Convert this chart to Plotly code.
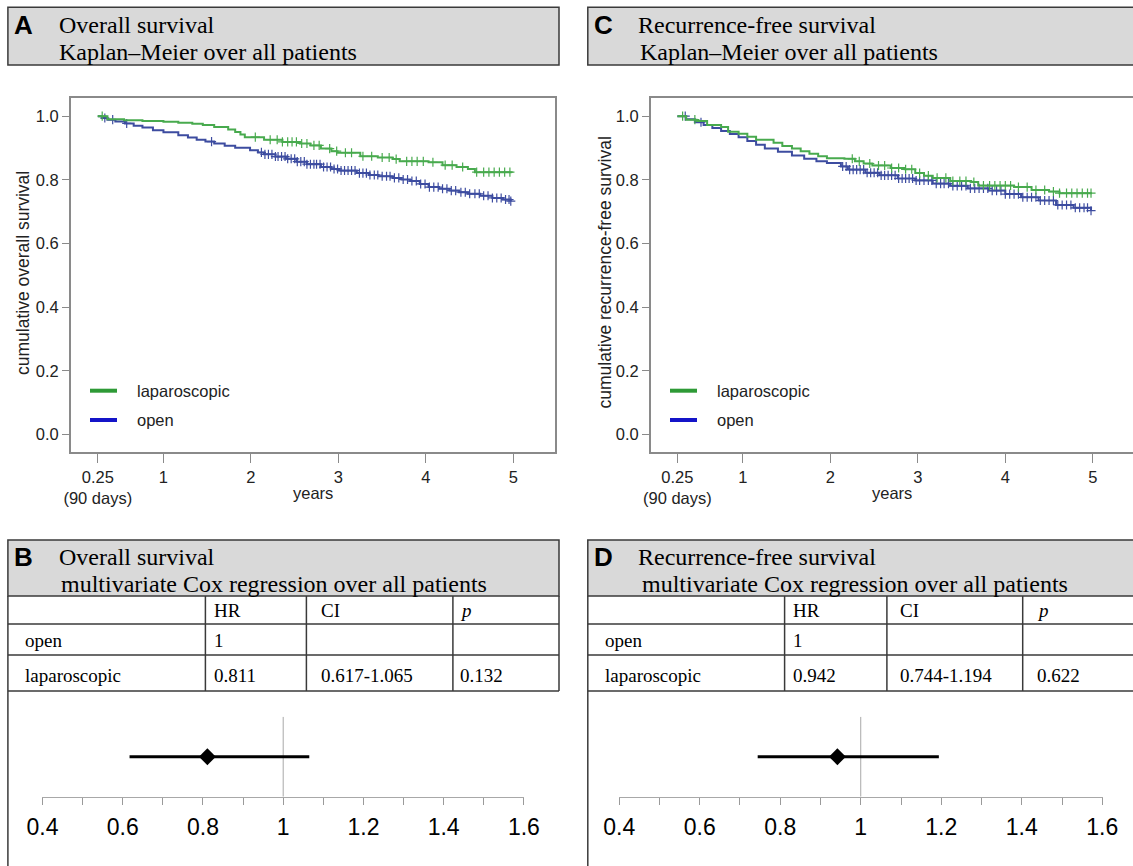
import numpy as np
import plotly.graph_objects as go

W, H = 1133, 866

# ---------------- Kaplan–Meier data (years, cumulative survival) ----------------
# Overall survival
os_lap_t = [0.25, 0.36, 0.55, 0.76, 1.00, 1.17, 1.33, 1.45, 1.58, 1.74, 1.82, 1.88, 1.93,
            2.15, 2.36, 2.56, 2.68, 2.80, 2.92, 2.99, 3.25, 3.45, 3.62, 3.70, 4.03, 4.19,
            4.35, 4.48, 4.56, 4.98]
os_lap_s = [1.000, 0.990, 0.987, 0.985, 0.982, 0.979, 0.976, 0.972, 0.966, 0.958, 0.950, 0.942, 0.934,
            0.926, 0.919, 0.914, 0.908, 0.898, 0.890, 0.885, 0.874, 0.870, 0.865, 0.858, 0.855, 0.846,
            0.840, 0.834, 0.824, 0.821]
os_open_t = [0.25, 0.30, 0.36, 0.45, 0.56, 0.66, 0.76, 0.88, 1.00, 1.17, 1.28, 1.38, 1.48, 1.58,
             1.70, 1.82, 1.99, 2.08, 2.15, 2.28, 2.40, 2.52, 2.64, 2.80, 2.92, 3.01, 3.21, 3.35,
             3.46, 3.62, 3.72, 3.82, 3.93, 4.03, 4.15, 4.27, 4.38, 4.48, 4.62, 4.76, 4.88, 4.97]
os_open_s = [1.000, 0.994, 0.989, 0.983, 0.977, 0.970, 0.964, 0.956, 0.949, 0.940, 0.933, 0.926, 0.920, 0.914,
             0.907, 0.901, 0.893, 0.886, 0.880, 0.873, 0.866, 0.857, 0.849, 0.840, 0.834, 0.829, 0.821, 0.815,
             0.811, 0.806, 0.801, 0.796, 0.787, 0.777, 0.772, 0.766, 0.761, 0.756, 0.750, 0.743, 0.738, 0.733]
os_lap_cens = [0.30, 2.05, 2.22, 2.30, 2.36, 2.42, 2.47, 2.52, 2.58, 2.64, 2.72, 2.78, 2.90, 2.98,
               3.08, 3.15, 3.28, 3.38, 3.50, 3.58, 3.66, 3.78, 3.84, 3.90, 3.97, 4.08, 4.22, 4.30,
               4.42, 4.58, 4.66, 4.72, 4.78, 4.84, 4.90, 4.96]
os_open_cens = [0.33, 0.42, 0.58, 1.55, 2.12, 2.16, 2.20, 2.24, 2.28, 2.31, 2.35, 2.39, 2.42, 2.46,
                2.50, 2.53, 2.57, 2.61, 2.64, 2.68, 2.72, 2.75, 2.79, 2.83, 2.87, 2.91, 2.95, 2.99,
                3.03, 3.07, 3.11, 3.15, 3.19, 3.24, 3.28, 3.32, 3.36, 3.41, 3.45, 3.50, 3.55, 3.59,
                3.64, 3.69, 3.74, 3.79, 3.84, 3.89, 3.94, 3.99, 4.04, 4.09, 4.14, 4.19, 4.24, 4.29,
                4.34, 4.40, 4.45, 4.50, 4.56, 4.61, 4.66, 4.71, 4.76, 4.81, 4.86, 4.91, 4.95, 4.97]

# Recurrence-free survival
rfs_lap_t = [0.25, 0.35, 0.47, 0.59, 0.75, 0.83, 0.95, 1.05, 1.15, 1.35, 1.45, 1.56, 1.66, 1.76,
             1.86, 1.96, 2.16, 2.28, 2.38, 2.48, 2.69, 2.85, 2.97, 3.07, 3.17, 3.37, 3.61, 3.69,
             4.10, 4.30, 4.50, 4.62, 4.99]
rfs_lap_s = [1.000, 0.989, 0.985, 0.972, 0.966, 0.951, 0.945, 0.935, 0.926, 0.916, 0.906, 0.898, 0.890, 0.882,
             0.874, 0.868, 0.866, 0.858, 0.851, 0.845, 0.837, 0.833, 0.821, 0.813, 0.806, 0.796, 0.793, 0.782,
             0.777, 0.768, 0.763, 0.758, 0.758]
rfs_open_t = [0.25, 0.35, 0.45, 0.55, 0.65, 0.75, 0.85, 0.95, 1.05, 1.15, 1.25, 1.40, 1.56, 1.70,
              1.84, 1.96, 2.12, 2.20, 2.40, 2.56, 2.77, 2.97, 3.17, 3.37, 3.57, 3.81, 4.00, 4.18,
              4.38, 4.58, 4.78, 4.98]
rfs_open_s = [1.000, 0.990, 0.981, 0.972, 0.963, 0.953, 0.944, 0.934, 0.922, 0.910, 0.898, 0.888, 0.876, 0.866,
              0.858, 0.853, 0.842, 0.832, 0.822, 0.814, 0.804, 0.798, 0.788, 0.781, 0.773, 0.766, 0.755, 0.745,
              0.735, 0.721, 0.712, 0.703]
rfs_lap_cens = [0.31, 0.45, 2.25, 2.33, 2.45, 2.55, 2.62, 2.70, 2.78, 2.86, 2.93, 3.02, 3.12, 3.22,
                3.32, 3.40, 3.48, 3.55, 3.64, 3.75, 3.82, 3.88, 3.94, 4.00, 4.06, 4.15, 4.25, 4.35,
                4.45, 4.55, 4.62, 4.70, 4.76, 4.82, 4.88, 4.94, 4.98]
rfs_open_cens = [0.34, 0.52, 2.14, 2.18, 2.22, 2.26, 2.30, 2.34, 2.38, 2.42, 2.46, 2.50, 2.54, 2.58,
                 2.62, 2.66, 2.70, 2.74, 2.78, 2.82, 2.86, 2.90, 2.94, 2.98, 3.02, 3.07, 3.12, 3.16,
                 3.21, 3.26, 3.30, 3.35, 3.40, 3.45, 3.50, 3.55, 3.60, 3.65, 3.70, 3.75, 3.80, 3.85,
                 3.90, 3.95, 4.00, 4.05, 4.10, 4.15, 4.20, 4.25, 4.30, 4.35, 4.40, 4.45, 4.50, 4.55,
                 4.60, 4.65, 4.70, 4.75, 4.80, 4.85, 4.90, 4.94, 4.98]

# ---------------- Cox regression tables ----------------
cox_header = ["", "HR", "CI", "p"]
cox_groups = ["open", "laparoscopic"]
os_hr = ["1", "0.811"]
os_ci = ["", "0.617-1.065"]
os_p = ["", "0.132"]
rfs_hr = ["1", "0.942"]
rfs_ci = ["", "0.744-1.194"]
rfs_p = ["", "0.622"]

# ---------------- axis ticks ----------------
year_ticks = [0.25, 1, 2, 3, 4, 5]
year_labels = ["0.25<br>(90 days)", "1", "2", "3", "4", "5"]
surv_ticks = [0.0, 0.2, 0.4, 0.6, 0.8, 1.0]
surv_labels = ["0.0", "0.2", "0.4", "0.6", "0.8", "1.0"]
hr_ticks = [0.4, 0.6, 0.8, 1.0, 1.2, 1.4, 1.6]
hr_labels = ["0.4", "0.6", "0.8", "1", "1.2", "1.4", "1.6"]
hr_minor = [0.5, 0.7, 0.9, 1.1, 1.3, 1.5]

# ---------------- styling ----------------
GREEN = "#48aa4e"
BLUE = "#3d4ca0"
LEG_GREEN = "#2e9a36"
LEG_BLUE = "#1414c8"
FRAME = "#8a8a8a"
BORDER = "#3a3a3a"
HEAD_FILL = "#d9d9d9"
SANS = "Liberation Sans, Arial, sans-serif"
SERIF = "Liberation Serif, Times New Roman, serif"


def px(x):
    return x / W


def py(y):
    return 1 - y / H


def step_at(t, s, c):
    idx = np.searchsorted(np.asarray(t), np.asarray(c), side="right") - 1
    return np.asarray(s)[idx]


fig = go.Figure()

# ---- Kaplan–Meier curves ----
km_panels = [
    ("x", "y", os_lap_t, os_lap_s, os_lap_cens, os_open_t, os_open_s, os_open_cens),
    ("x2", "y2", rfs_lap_t, rfs_lap_s, rfs_lap_cens, rfs_open_t, rfs_open_s, rfs_open_cens),
]
for xa, ya, lt, ls, lc, ot, os_, oc in km_panels:
    for t, s, c, col in [(ot, os_, oc, BLUE), (lt, ls, lc, GREEN)]:
        fig.add_trace(go.Scatter(x=t, y=s, mode="lines", xaxis=xa, yaxis=ya,
                                 line=dict(shape="hv", color=col, width=2),
                                 showlegend=False, hoverinfo="skip"))
        fig.add_trace(go.Scatter(x=c, y=step_at(t, s, c), mode="markers", xaxis=xa, yaxis=ya,
                                 marker=dict(symbol="cross-thin", size=6.5,
                                             line=dict(width=1.2, color=col)),
                                 showlegend=False, hoverinfo="skip"))

# ---- forest plots ----
forest_panels = [("x3", "y3", os_hr[1], os_ci[1]), ("x4", "y4", rfs_hr[1], rfs_ci[1])]
for xa, ya, hr_txt, ci_txt in forest_panels:
    hr = float(hr_txt)
    lo, hi = (float(v) for v in ci_txt.split("-"))
    fig.add_trace(go.Scatter(x=[1, 1], y=[0, 1], mode="lines", xaxis=xa, yaxis=ya,
                             line=dict(color="#a8a8a8", width=1), showlegend=False, hoverinfo="skip"))
    fig.add_trace(go.Scatter(x=[lo, hi], y=[0.5, 0.5], mode="lines", xaxis=xa, yaxis=ya,
                             line=dict(color="black", width=3), showlegend=False, hoverinfo="skip"))
    fig.add_trace(go.Scatter(x=[hr], y=[0.5], mode="markers", xaxis=xa, yaxis=ya,
                             marker=dict(symbol="diamond", size=13, color="black"),
                             showlegend=False, hoverinfo="skip"))

# ---- axes ----
km_y = dict(range=[-0.056, 1.056], tickvals=surv_ticks, ticktext=surv_labels,
            ticks="outside", ticklen=7, tickcolor=FRAME, tickwidth=1,
            showline=True, linecolor=FRAME, linewidth=1.5,
            showgrid=False, zeroline=False, automargin=False,
            tickfont=dict(family=SANS, size=16.5, color="#222"))
km_x = dict(tickvals=year_ticks, ticktext=year_labels,
            ticks="outside", ticklen=9, tickcolor=FRAME, tickwidth=1,
            showline=True, linecolor=FRAME, linewidth=1.5, mirror=True,
            showgrid=False, zeroline=False, automargin=False,
            tickfont=dict(family=SANS, size=16.5, color="#222"))
ydom = [py(452.3), py(98.3)]

fig.update_layout(
    xaxis=dict(km_x, domain=[px(70.7), px(555.4)], range=[-0.06, 5.48], anchor="y"),
    yaxis=dict(km_y, domain=ydom, anchor="x", mirror=True),
    xaxis2=dict(km_x, domain=[px(650.7), 1.0], range=[-0.055, 5.46], anchor="y2"),
    yaxis2=dict(km_y, domain=ydom, anchor="x2", mirror=False),
)

forest_x = dict(range=[0.399, 1.601], tickvals=hr_ticks, ticktext=hr_labels,
                ticks="outside", ticklen=7, tickcolor="#9a9a9a", tickwidth=1,
                minor=dict(tickvals=hr_minor, ticks="outside", ticklen=7,
                           tickcolor="#9a9a9a", tickwidth=1),
                showline=True, linecolor="#a8a8a8", linewidth=1,
                showgrid=False, zeroline=False, ticklabelstandoff=3, automargin=False,
                tickfont=dict(family=SANS, size=23, color="black"))
forest_y = dict(range=[0, 1], visible=False, domain=[py(796.7), py(716.7)], automargin=False)
fig.update_layout(
    xaxis3=dict(forest_x, domain=[px(42.1), px(524.3)], anchor="y3"),
    yaxis3=dict(forest_y, anchor="x3"),
    xaxis4=dict(forest_x, domain=[px(618.8), px(1102.7)], anchor="y4"),
    yaxis4=dict(forest_y, anchor="x4"),
)

shapes = []
annotations = []


def line(x0, y0, x1, y1, color=BORDER, width=1.5):
    shapes.append(dict(type="line", xref="paper", yref="paper",
                       x0=px(x0), y0=py(y0), x1=px(x1), y1=py(y1),
                       line=dict(color=color, width=width)))


def text(x, y, s, size, family=SANS, color="black", xanchor="left", angle=0, bold=False):
    if bold:
        s = "<b>" + s + "</b>"
    annotations.append(dict(x=px(x), y=py(y), xref="paper", yref="paper", text=s,
                            showarrow=False, xanchor=xanchor, yanchor="middle",
                            textangle=angle, font=dict(family=family, size=size, color=color)))


def header(x0, x1, y0, y1, letter, lines, lx, tx, ty):
    shapes.append(dict(type="rect", xref="paper", yref="paper",
                       x0=px(x0), y0=py(y1), x1=px(x1), y1=py(y0),
                       fillcolor=HEAD_FILL, line=dict(color=BORDER, width=1.5), layer="below"))
    text(lx, ty[0], letter, 26, SANS, bold=True)
    for (s, xx), yy in zip(zip(lines, tx), ty):
        text(xx, yy, s, 24, SERIF)


# ---- panel headers ----
header(7.9, 559, 7.3, 65, "A", ["Overall survival", "Kaplan–Meier over all patients"],
       12, [57, 57], [25, 51.7])
header(587.8, 1140, 7.3, 65, "C", ["Recurrence-free survival", "Kaplan–Meier over all patients"],
       592, [636, 638], [25, 51.7])
header(7.9, 559, 540, 596, "B", ["Overall survival", "multivariate Cox regression over all patients"],
       12, [57, 59], [556.7, 584])
header(587.8, 1140, 540, 596, "D", ["Recurrence-free survival", "multivariate Cox regression over all patients"],
       592, [636, 640], [556.7, 584])

# ---- KM axis titles and legends ----
for xc, ytitle_x, ytitle, lg_x0, lg_tx in [
        ((70.7 + 555.4) / 2, 23, "cumulative overall survival", 90, 135),
        ((650.7 + 1133) / 2, 604.5, "cumulative recurrence-free survival", 670, 715)]:
    text(xc, 492.7, "years", 16.5, color="#222", xanchor="center")
    text(ytitle_x, 273, ytitle, 17.5, color="#222", xanchor="center", angle=-90)
    for yy, col, lab in [(390.7, LEG_GREEN, "laparoscopic"), (420, LEG_BLUE, "open")]:
        line(lg_x0, yy, lg_x0 + 27, yy, color=col, width=4)
        text(lg_tx, yy, lab, 16.5, color="#222")

# ---- Cox tables ----
row_lines = [596, 624, 655, 691]
row_centers = [610, 640, 675]
tables = [
    (7.9, 559, [205.4, 306.4, 452.9], [23, 212, 319, 458], os_hr, os_ci, os_p),
    (587.8, 1140, [784.6, 886.9, 1022.7], [603, 791, 897.5, 1035], rfs_hr, rfs_ci, rfs_p),
]
for x0, x1, cols, tx, hr, ci, pv in tables:
    for yy in row_lines[1:]:
        line(x0, yy, x1, yy)
    line(x0, row_lines[0], x0, H + 5)
    line(x1, row_lines[0], x1, row_lines[-1])
    for cx in cols:
        line(cx, row_lines[0], cx, row_lines[-1])
    for i, h in enumerate(cox_header):
        if h:
            s = "<i>" + h + "</i>" if h == "p" else h
            text(tx[i], row_centers[0], s, 19, SERIF)
    for r, g in enumerate(cox_groups):
        yy = row_centers[r + 1]
        for i, s in enumerate([g, hr[r], ci[r], pv[r]]):
            if s:
                text(tx[i], yy, s, 19, SERIF)

fig.update_layout(
    width=W, height=H, margin=dict(l=0, r=0, t=0, b=0, pad=0, autoexpand=False),
    paper_bgcolor="white", plot_bgcolor="white",
    showlegend=False, shapes=shapes, annotations=annotations,
)

fig.write_html("out.html")
